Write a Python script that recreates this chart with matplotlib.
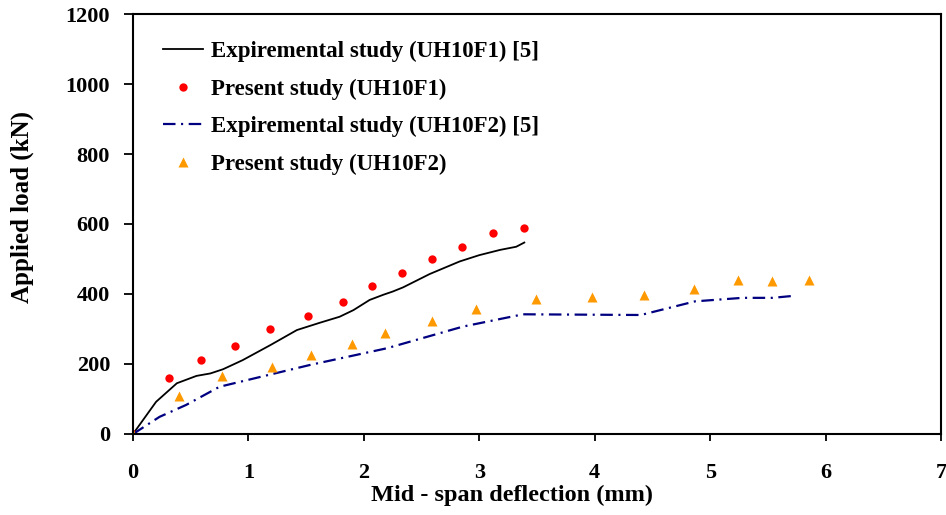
import matplotlib.pyplot as plt

plt.rcParams['font.family'] = ['Liberation Serif', 'DejaVu Serif']
plt.rcParams['font.weight'] = 'bold'
plt.rcParams['axes.labelweight'] = 'bold'
plt.rcParams['lines.scale_dashes'] = False

# experimental curve, UH10F1
exp1_x = [0, 0.20, 0.38, 0.55, 0.67, 0.78, 0.95, 1.19, 1.42, 1.62, 1.79, 1.91, 2.05,
          2.17, 2.25, 2.34, 2.57, 2.83, 3.00, 3.18, 3.32, 3.39]
exp1_y = [0, 92, 145, 166, 173, 185, 211, 254, 297, 318, 335, 354, 383,
          398, 407, 419, 457, 493, 511, 526, 535, 547]

# present study, UH10F1
fe1_x = [0, 0.31, 0.59, 0.88, 1.19, 1.52, 1.82, 2.07, 2.33, 2.59, 2.85, 3.12, 3.39]
fe1_y = [0, 161, 210, 250, 300, 336, 376, 424, 459, 499, 534, 574, 589]

# experimental curve, UH10F2
exp2_x = [0, 0.23, 0.46, 0.75, 1.53, 2.20, 2.86, 3.38, 4.40, 4.87, 5.28, 5.54, 5.70]
exp2_y = [0, 49, 83, 135, 197, 245, 307, 342, 340, 379, 389, 389, 394]

# present study, UH10F2
fe2_x = [0, 0.40, 0.77, 1.20, 1.54, 1.90, 2.18, 2.59, 2.97, 3.49, 3.98, 4.43, 4.86,
         5.24, 5.54, 5.86]
fe2_y = [0, 109, 166, 191, 227, 257, 289, 324, 356, 386, 391, 396, 413,
         441, 436, 441]

fig = plt.figure(figsize=(9.46, 5.15), dpi=100)
ax = fig.add_axes([0.1406, 0.1573, 0.8541, 0.8155])

ax.plot(exp1_x, exp1_y, color='black', lw=1.3, label='Expiremental study (UH10F1) [5]')
ax.plot(fe1_x, fe1_y, 'o', color='#ff0000', ms=6, mec='none', label='Present study (UH10F1)')
ax.plot(exp2_x, exp2_y, color='#000080', lw=1.6, dashes=(9, 4, 1.5, 4),
        label='Expiremental study (UH10F2) [5]')
ax.plot(fe2_x, fe2_y, '^', color='#ff9900', ms=7, mec='none', label='Present study (UH10F2)')

ax.set_xlim(0, 7)
ax.set_ylim(0, 1200)
ax.set_xticks(range(0, 8))
ax.set_yticks(range(0, 1201, 200))
ax.tick_params(direction='out', width=1.3, labelsize=16)
ax.tick_params(axis='x', length=5, pad=16)
ax.tick_params(axis='y', length=6.5, pad=10)
for s in ax.spines.values():
    s.set_linewidth(1.5)

ax.set_xlabel('Mid - span deflection (mm)', fontsize=17.5)
ax.set_ylabel('Applied load (kN)', fontsize=18)
ax.xaxis.set_label_coords(0.469, -0.121)
ax.yaxis.set_label_coords(-0.123, 0.54)

ax.legend(loc='upper left', bbox_to_anchor=(0.037, 0.936), frameon=False,
          fontsize=16.5, handlelength=1.75, labelspacing=0.72, borderaxespad=0,
          borderpad=0, handletextpad=0.35)

fig.savefig('out.png', dpi=100)
